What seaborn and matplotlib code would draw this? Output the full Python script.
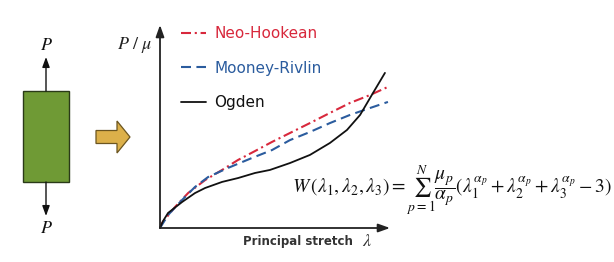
import matplotlib
matplotlib.use("Agg")
import matplotlib.pyplot as plt
import seaborn as sns
import pandas as pd
from matplotlib.patches import Rectangle, FancyArrow

sns.set_style("white")
plt.rcParams['font.family'] = ['DejaVu Sans']
plt.rcParams['mathtext.fontset'] = 'stix'

# ---- data (normalised principal stretch vs normalised nominal stress) ----
neo_x = [0.0, 0.009, 0.065, 0.122, 0.196, 0.270, 0.339, 0.413, 0.487, 0.565, 0.652, 0.739, 0.826, 0.913, 0.991]
neo_y = [0.0, 0.025, 0.103, 0.172, 0.236, 0.286, 0.335, 0.379, 0.424, 0.468, 0.517, 0.567, 0.616, 0.655, 0.695]
mr_x = [0.0, 0.035, 0.096, 0.152, 0.209, 0.296, 0.400, 0.487, 0.565, 0.652, 0.739, 0.826, 0.913, 0.991]
mr_y = [0.0, 0.064, 0.138, 0.202, 0.251, 0.296, 0.345, 0.384, 0.433, 0.473, 0.517, 0.557, 0.591, 0.621]
og_x = [0.0, 0.013, 0.035, 0.096, 0.152, 0.196, 0.270, 0.339, 0.413, 0.478, 0.565, 0.652, 0.739, 0.813, 0.870, 0.926, 0.978]
og_y = [0.0, 0.034, 0.074, 0.128, 0.172, 0.197, 0.227, 0.246, 0.271, 0.286, 0.320, 0.360, 0.419, 0.483, 0.557, 0.665, 0.764]
labels = ["Neo-Hookean", "Mooney-Rivlin", "Ogden"]
colors = ["#d8283c", "#2b5c9e", "#111111"]

W, H = 614, 262
fig = plt.figure(figsize=(W / 100, H / 100), dpi=100)

# background overlay in pixel coordinates
bg = fig.add_axes([0, 0, 1, 1])
bg.set_xlim(0, W)
bg.set_ylim(H, 0)
bg.axis("off")

# main chart axes
ox, oy, tx, ty = 160, 228, 390, 25
ax = fig.add_axes([ox / W, (H - oy) / H, (tx - ox) / W, (oy - ty) / H])
ax.set_xlim(0, 1)
ax.set_ylim(0, 1)
ax.patch.set_alpha(0)
for s in ax.spines.values():
    s.set_visible(False)
ax.set_xticks([])
ax.set_yticks([])

series = [(neo_x, neo_y), (mr_x, mr_y), (og_x, og_y)]
styles = [(0, (4.8, 1.8, 1.0, 1.8)), (0, (4.8, 2.6)), "-"]
widths = [1.5, 1.5, 1.3]
for (xs, ys), lab, c, ls, lw in zip(series, labels, colors, styles, widths):
    df = pd.DataFrame({"x": xs, "y": ys})
    sns.lineplot(data=df, x="x", y="y", ax=ax, color=c, lw=lw, linestyle=ls,
                 sort=False, estimator=None, label=lab, clip_on=False)
ax.set_xlabel("")
ax.set_ylabel("")

# axis arrows
arrow_kw = dict(arrowstyle="-|>,head_length=0.7,head_width=0.25", color="#222222", lw=1.3,
                shrinkA=0, shrinkB=0)
ax.annotate("", xy=(0, 1), xytext=(0, 0), xycoords="axes fraction", arrowprops=arrow_kw,
            annotation_clip=False)
ax.annotate("", xy=(1, 0), xytext=(0, 0), xycoords="axes fraction", arrowprops=arrow_kw,
            annotation_clip=False)

leg = ax.legend(loc="upper left", bbox_to_anchor=(181 / W, (H - 26) / H),
                bbox_transform=fig.transFigure, frameon=False, fontsize=11,
                handlelength=1.65, handletextpad=0.55, labelspacing=1.28,
                borderpad=0, borderaxespad=0)
for t, c in zip(leg.get_texts(), colors):
    t.set_color(c)

# axis labels
bg.text(135, 45, r"$P\ /\ \mu$", fontsize=13, ha="center", va="center", color="#222222")
bg.text(298, 242, "Principal stretch", fontsize=8.5, fontweight="semibold",
        ha="center", va="center", color="#333333")
bg.text(367, 241, r"$\lambda$", fontsize=13, ha="center", va="center", color="#333333")

# formula
bg.text(612, 190,
        r"$W\,(\lambda_1,\lambda_2,\lambda_3)=\sum_{p=1}^{N}\dfrac{\mu_p}{\alpha_p}"
        r"(\lambda_1^{\alpha_p}+\lambda_2^{\alpha_p}+\lambda_3^{\alpha_p}-3)$",
        fontsize=14, ha="right", va="center", color="#111111")

# left illustration: specimen under tension
bg.add_patch(Rectangle((23, 91), 46, 91, facecolor="#6f9a35", edgecolor="#2a3a18", lw=1.0))
bg.annotate("", xy=(46, 57), xytext=(46, 91),
            arrowprops=dict(arrowstyle="-|>,head_length=0.6,head_width=0.22", color="#111111",
                            lw=1.0, shrinkA=0, shrinkB=0))
bg.annotate("", xy=(46, 216), xytext=(46, 182),
            arrowprops=dict(arrowstyle="-|>,head_length=0.6,head_width=0.22", color="#111111",
                            lw=1.0, shrinkA=0, shrinkB=0))
bg.text(46, 45, r"$P$", fontsize=13, ha="center", va="center", color="#111111")
bg.text(46, 228, r"$P$", fontsize=13, ha="center", va="center", color="#111111")

# yellow block arrow
bg.add_patch(FancyArrow(96, 137, 21, 0, width=13, head_width=32, head_length=13,
                        length_includes_head=False, facecolor="#dcb04a", edgecolor="#6b5520",
                        lw=0.9))

fig.savefig("out.png", dpi=100)
